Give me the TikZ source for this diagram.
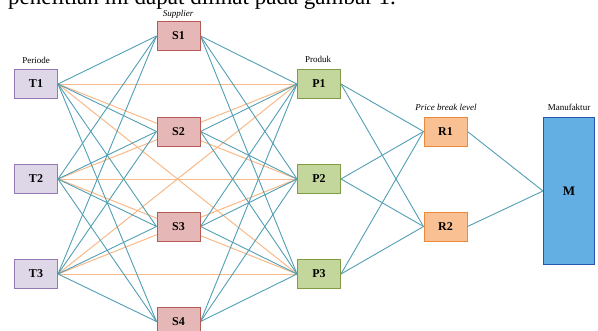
\documentclass[tikz,border=0pt]{standalone}
\usepackage{fontspec}
\setmainfont{Liberation Serif}
\usetikzlibrary{backgrounds}
\definecolor{tealln}{HTML}{519FB4}
\definecolor{orgln}{HTML}{F7B98A}
\definecolor{tfill}{HTML}{DDD7E8}
\definecolor{tdraw}{HTML}{9479B5}
\definecolor{sfill}{HTML}{E5B8B7}
\definecolor{sdraw}{HTML}{B65A55}
\definecolor{pfill}{HTML}{C3D69B}
\definecolor{pdraw}{HTML}{7F9C45}
\definecolor{rfill}{HTML}{F9C094}
\definecolor{rdraw}{HTML}{EE8A3C}
\definecolor{mfill}{HTML}{63AEE2}
\definecolor{mdraw}{HTML}{2656B0}
\begin{document}
\begin{tikzpicture}[x=1pt,y=-1pt,
  box/.style={draw, line width=1pt, minimum width=43pt, minimum height=29pt, inner sep=0pt, font=\bfseries\fontsize{12}{12}\selectfont},
  tbox/.style={box, fill=tfill, draw=tdraw},
  sbox/.style={box, fill=sfill, draw=sdraw},
  pbox/.style={box, fill=pfill, draw=pdraw},
  rbox/.style={box, fill=rfill, draw=rdraw},
  mbox/.style={box, fill=mfill, draw=mdraw, minimum width=51pt, minimum height=147pt, font=\bfseries\fontsize{13}{13}\selectfont},
  lab/.style={font=\fontsize{9}{9}\selectfont, inner sep=0pt},
  ilab/.style={font=\itshape\fontsize{9}{9}\selectfont, inner sep=0pt},
  tl/.style={draw=tealln, line width=0.9pt},
  ol/.style={draw=orgln, line width=1pt}]
\useasboundingbox (0,0) rectangle (598,330);
\clip (0,0) rectangle (598,330);
\node[anchor=base west, inner sep=0pt, font=\fontsize{23}{23}\selectfont] (top) at (8,4.5) {penelitian ini dapat dilihat pada gambar 1.};
% nodes
\node[tbox] (T1) at (36,84) {T1};
\node[tbox] (T2) at (36,179) {T2};
\node[tbox] (T3) at (36,274) {T3};
\node[sbox] (S1) at (178.5,36) {S1};
\node[sbox] (S2) at (178.5,131.5) {S2};
\node[sbox] (S3) at (178.5,226.5) {S3};
\node[sbox] (S4) at (178.5,321.5) {S4};
\node[pbox] (P1) at (319,84) {P1};
\node[pbox] (P2) at (319,179) {P2};
\node[pbox] (P3) at (319,274) {P3};
\node[rbox] (R1) at (445.5,131.5) {R1};
\node[rbox] (R2) at (445.5,226.5) {R2};
\node[mbox] (M) at (569,191) {M};
% labels
\node[lab] (lt) at (36,60) {Periode};
\node[ilab] (ls) at (178,14.5) {Supplier};
\node[lab] (lp) at (318,59) {Produk};
\node[ilab] (lr) at (446,107) {Price break level};
\node[lab] (lm) at (569,107) {Manufaktur};
% connectors
\begin{scope}[on background layer]
\foreach \t in {T1,T2,T3}{
  \foreach \p in {P1,P2,P3}{
    \draw[ol] (\t.east) -- (\p.west);
  }
}
\foreach \t in {T1,T2,T3}{
  \foreach \s in {S1,S2,S3,S4}{
    \draw[tl] (\t.east) -- (\s.west);
  }
}
\foreach \s in {S1,S2,S3,S4}{
  \foreach \p in {P1,P2,P3}{
    \draw[tl] (\s.east) -- (\p.west);
  }
}
\foreach \p in {P1,P2,P3}{
  \foreach \r in {R1,R2}{
    \draw[tl] (\p.east) -- (\r.west);
  }
}
\draw[tl] (R1.east) -- (M.west);
\draw[tl] (R2.east) -- (M.west);
\end{scope}
\end{tikzpicture}
\end{document}
